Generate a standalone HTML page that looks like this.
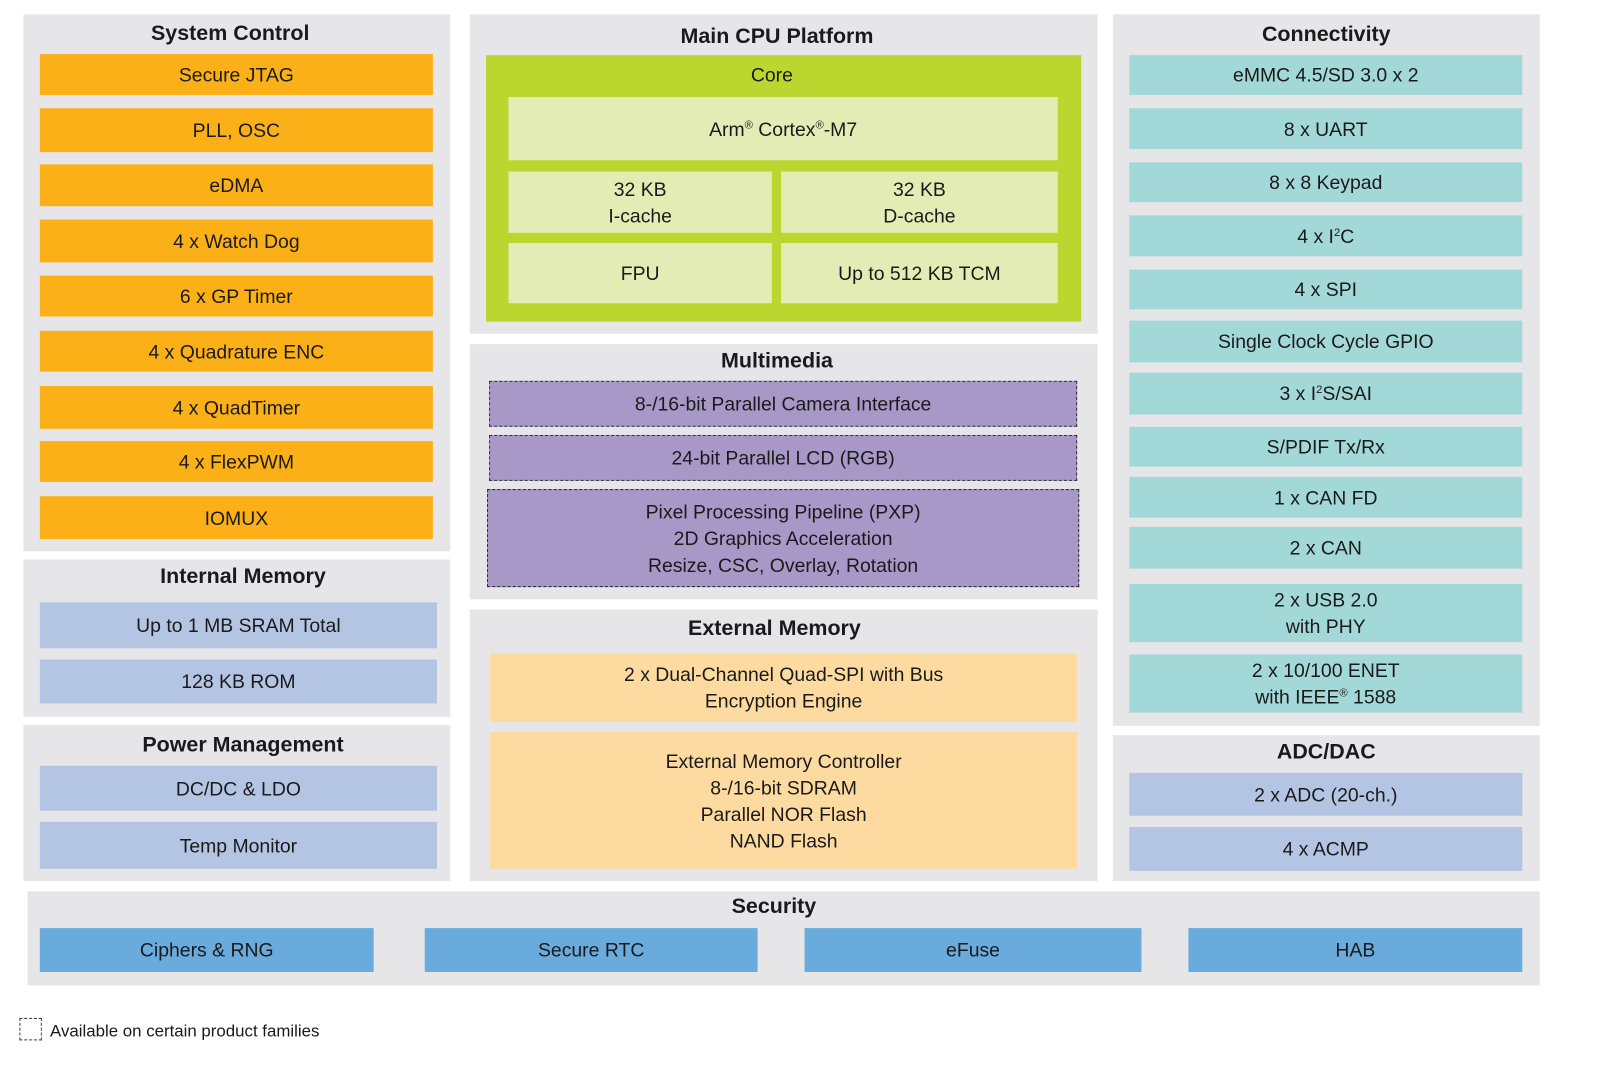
<!DOCTYPE html>
<html><head><meta charset="utf-8"><style>
html,body{margin:0;padding:0;background:#fff;width:1601px;height:1067px;overflow:hidden}
#w{position:absolute;left:0;top:0;width:1568px;height:1045px;transform:scale(1.021);transform-origin:0 0;font-family:"Liberation Sans",Arial,sans-serif;color:#1a1a1a}
.p{position:absolute;background:#e6e6e8}
.t{position:absolute;font-weight:bold;font-size:21px;text-align:center;line-height:24px}
.b{position:absolute;display:flex;align-items:center;justify-content:center;text-align:center;font-size:19px;line-height:26px;padding-top:3px;box-sizing:border-box}
.o{background:#fbb017}.l{background:#b4c5e4}.g{background:#e3ecb4}.u{background:#a898c8;border:1.5px dashed #333}
.k{background:#fddba0}.c{background:#a3d8d9}.s{background:#6aabdd}
sup{font-size:11px;line-height:0;vertical-align:7px}
</style></head><body><div id="w">
<div class="p" style="left:23px;top:14px;width:418px;height:526px"></div>
<div class="t" style="left:23px;top:21px;width:405px">System Control</div>
<div class="b o" style="left:39px;top:53px;width:385px;height:40px">Secure JTAG</div>
<div class="b o" style="left:39px;top:106px;width:385px;height:43px">PLL, OSC</div>
<div class="b o" style="left:39px;top:161px;width:385px;height:41px">eDMA</div>
<div class="b o" style="left:39px;top:215px;width:385px;height:42px">4 x Watch Dog</div>
<div class="b o" style="left:39px;top:270px;width:385px;height:40px">6 x GP Timer</div>
<div class="b o" style="left:39px;top:324px;width:385px;height:40px">4 x Quadrature ENC</div>
<div class="b o" style="left:39px;top:378px;width:385px;height:42px">4 x QuadTimer</div>
<div class="b o" style="left:39px;top:432px;width:385px;height:40px">4 x FlexPWM</div>
<div class="b o" style="left:39px;top:486px;width:385px;height:42px">IOMUX</div>
<div class="p" style="left:23px;top:548px;width:418px;height:154px"></div>
<div class="t" style="left:23px;top:553px;width:430px">Internal Memory</div>
<div class="b l" style="left:39px;top:590px;width:389px;height:45px">Up to 1 MB SRAM Total</div>
<div class="b l" style="left:39px;top:646px;width:389px;height:43px">128 KB ROM</div>
<div class="p" style="left:23px;top:710px;width:418px;height:153px"></div>
<div class="t" style="left:23px;top:718px;width:430px">Power Management</div>
<div class="b l" style="left:39px;top:750px;width:389px;height:44px">DC/DC &amp; LDO</div>
<div class="b l" style="left:39px;top:805px;width:389px;height:46px">Temp Monitor</div>
<div class="p" style="left:460px;top:14px;width:615px;height:313px"></div>
<div class="t" style="left:460px;top:24px;width:602px">Main CPU Platform</div>
<div style="position:absolute;left:476px;top:54px;width:583px;height:261px;background:#bcd630"></div>
<div class="b" style="left:476px;top:60px;width:560px;height:26px">Core</div>
<div class="b g" style="left:498px;top:95px;width:538px;height:62px"><span>Arm<sup>®</sup> Cortex<sup>®</sup>-M7</span></div>
<div class="b g" style="left:498px;top:168px;width:258px;height:60px">32 KB<br>I-cache</div>
<div class="b g" style="left:765px;top:168px;width:271px;height:60px">32 KB<br>D-cache</div>
<div class="b g" style="left:498px;top:238px;width:258px;height:59px">FPU</div>
<div class="b g" style="left:765px;top:238px;width:271px;height:59px">Up to 512 KB TCM</div>
<div class="p" style="left:460px;top:337px;width:615px;height:250px"></div>
<div class="t" style="left:460px;top:342px;width:602px">Multimedia</div>
<div class="b u" style="left:479px;top:373px;width:576px;height:45px">8-/16-bit Parallel Camera Interface</div>
<div class="b u" style="left:479px;top:426px;width:576px;height:45px">24-bit Parallel LCD (RGB)</div>
<div class="b u" style="left:477px;top:479px;width:580px;height:96px">Pixel Processing Pipeline (PXP)<br>2D Graphics Acceleration<br>Resize, CSC, Overlay, Rotation</div>
<div class="p" style="left:460px;top:597px;width:615px;height:266px"></div>
<div class="t" style="left:460px;top:604px;width:597px">External Memory</div>
<div class="b k" style="left:480px;top:640px;width:575px;height:67px">2 x Dual-Channel Quad-SPI with Bus<br>Encryption Engine</div>
<div class="b k" style="left:480px;top:717px;width:575px;height:134px">External Memory Controller<br>8-/16-bit SDRAM<br>Parallel NOR Flash<br>NAND Flash</div>
<div class="p" style="left:1090px;top:14px;width:418px;height:697px"></div>
<div class="t" style="left:1090px;top:22px;width:418px">Connectivity</div>
<div class="b c" style="left:1106px;top:54px;width:385px;height:39px">eMMC 4.5/SD 3.0 x 2</div>
<div class="b c" style="left:1106px;top:106px;width:385px;height:40px">8 x UART</div>
<div class="b c" style="left:1106px;top:159px;width:385px;height:39px">8 x 8 Keypad</div>
<div class="b c" style="left:1106px;top:211px;width:385px;height:40px"><span>4 x I<sup>2</sup>C</span></div>
<div class="b c" style="left:1106px;top:264px;width:385px;height:39px">4 x SPI</div>
<div class="b c" style="left:1106px;top:314px;width:385px;height:41px">Single Clock Cycle GPIO</div>
<div class="b c" style="left:1106px;top:365px;width:385px;height:41px"><span>3 x I<sup>2</sup>S/SAI</span></div>
<div class="b c" style="left:1106px;top:418px;width:385px;height:39px">S/PDIF Tx/Rx</div>
<div class="b c" style="left:1106px;top:467px;width:385px;height:40px">1 x CAN FD</div>
<div class="b c" style="left:1106px;top:516px;width:385px;height:41px">2 x CAN</div>
<div class="b c" style="left:1106px;top:572px;width:385px;height:57px">2 x USB 2.0<br>with PHY</div>
<div class="b c" style="left:1106px;top:641px;width:385px;height:57px"><span>2 x 10/100 ENET<br>with IEEE<sup>®</sup> 1588</span></div>
<div class="p" style="left:1090px;top:720px;width:418px;height:143px"></div>
<div class="t" style="left:1090px;top:725px;width:418px">ADC/DAC</div>
<div class="b l" style="left:1106px;top:757px;width:385px;height:42px">2 x ADC (20-ch.)</div>
<div class="b l" style="left:1106px;top:810px;width:385px;height:43px">4 x ACMP</div>
<div class="p" style="left:27px;top:873px;width:1481px;height:92px"></div>
<div class="t" style="left:27px;top:876px;width:1462px">Security</div>
<div class="b s" style="left:39px;top:909px;width:327px;height:43px">Ciphers &amp; RNG</div>
<div class="b s" style="left:416px;top:909px;width:326px;height:43px">Secure RTC</div>
<div class="b s" style="left:788px;top:909px;width:330px;height:43px">eFuse</div>
<div class="b s" style="left:1164px;top:909px;width:327px;height:43px">HAB</div>
<div style="position:absolute;left:19px;top:997px;width:22px;height:22px;border:1.5px dashed #444;box-sizing:border-box"></div>
<div style="position:absolute;left:49px;top:1000px;font-size:16.5px;line-height:20px">Available on certain product families</div>
</div></body></html>
